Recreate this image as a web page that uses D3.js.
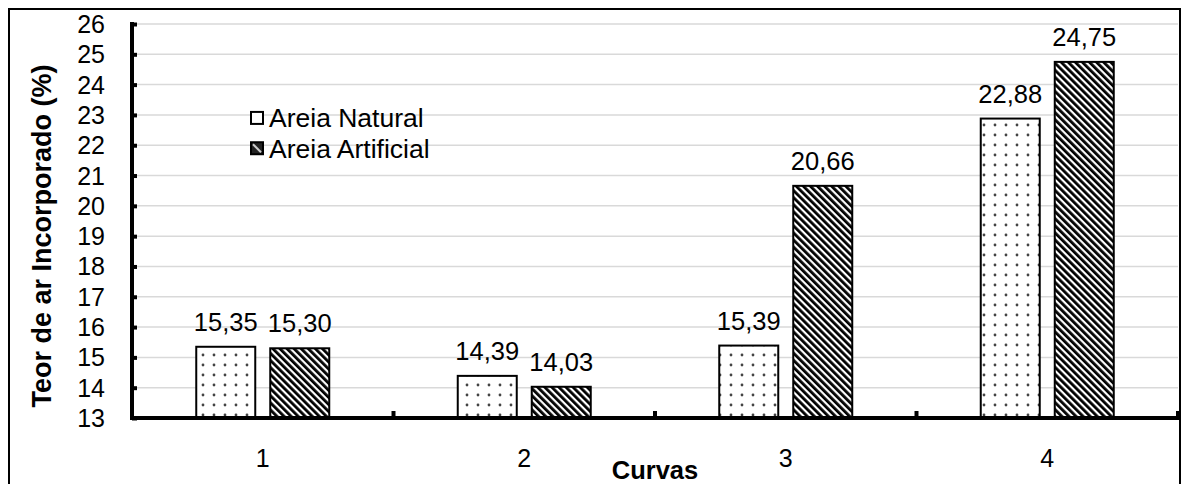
<!DOCTYPE html>
<html><head><meta charset="utf-8">
<script src="https://cdn.jsdelivr.net/npm/d3@7"></script>
<style>body{margin:0;background:#fff}svg{display:block;font-family:"Liberation Sans",Arial,sans-serif}</style>
</head><body><svg id="c" width="1183" height="484"></svg>
<script>
const categories = ["1","2","3","4"];
const seriesNames = ["Areia Natural","Areia Artificial"];
const natural = [15.35, 14.39, 15.39, 22.88];
const artificial = [15.30, 14.03, 20.66, 24.75];
const labelsNatural = ["15,35","14,39","15,39","22,88"];
const labelsArtificial = ["15,30","14,03","20,66","24,75"];
const yTicks = [13,14,15,16,17,18,19,20,21,22,23,24,25,26];

const svg = d3.select("#c");
const defs = svg.append("defs");
const dots = defs.append("pattern").attr("id","dots").attr("patternUnits","userSpaceOnUse")
  .attr("width",11).attr("height",10);
dots.append("rect").attr("width",11).attr("height",10).attr("fill","#fff");
dots.append("circle").attr("cx",5).attr("cy",5).attr("r",1.4).attr("fill","#444");
const hatch = defs.append("pattern").attr("id","hatch").attr("patternUnits","userSpaceOnUse")
  .attr("width",5).attr("height",5).attr("patternTransform","rotate(-45)");
hatch.append("rect").attr("width",5).attr("height",5).attr("fill","#fff");
hatch.append("rect").attr("x",0).attr("width",2.8).attr("height",5).attr("fill","#000");

const L = 132, R = 1178, T = 24, B = 418;
const x = d3.scaleBand().domain(categories).range([L, R]);
const y = d3.scaleLinear().domain([13, 26]).range([B, T]);
const barW = 59, gap = 15;

// outer border
svg.append("rect").attr("x",9).attr("y",9).attr("width",1171).attr("height",490)
  .attr("fill","none").attr("stroke","#000").attr("stroke-width",2);

// gridlines
svg.append("g").selectAll("line").data(yTicks.slice(1)).join("line")
  .attr("x1",L).attr("x2",R).attr("y1",d=>y(d)).attr("y2",d=>y(d))
  .attr("stroke","#d9d9d9").attr("stroke-width",1.5);

// bars
const g = svg.append("g");
categories.forEach((c,i)=>{
  const cx = x(c) + x.bandwidth()/2;
  const xs = [cx - gap/2 - barW, cx + gap/2];
  const vals = [natural[i], artificial[i]];
  const labs = [labelsNatural[i], labelsArtificial[i]];
  const fills = ["url(#dots)","url(#hatch)"];
  vals.forEach((v,j)=>{
    g.append("rect").attr("x",xs[j]).attr("y",y(v)).attr("width",barW).attr("height",y(13)-y(v))
      .attr("fill",fills[j]).attr("stroke","#000").attr("stroke-width",2);
    g.append("text").attr("x",xs[j]+barW/2).attr("y",y(v)-16).attr("text-anchor","middle")
      .attr("font-size",25.5).attr("fill","#000").text(labs[j]);
  });
});

// y axis
const yAxis = d3.axisRight(y).tickValues(yTicks).tickSize(5).tickFormat("");
const ya = svg.append("g").attr("transform",`translate(${L},0)`).call(yAxis);
ya.select(".domain").remove();
ya.selectAll(".tick line").attr("stroke","#000").attr("stroke-width",4);
svg.append("line").attr("x1",L).attr("x2",L).attr("y1",T-2).attr("y2",B+2).attr("stroke","#000").attr("stroke-width",4);
svg.append("g").selectAll("text").data(yTicks).join("text")
  .attr("x",105).attr("y",d=>y(d)).attr("dy","0.36em").attr("text-anchor","end")
  .attr("font-size",25).text(d=>d);

// x axis
svg.append("line").attr("x1",L-2).attr("x2",R+2).attr("y1",B).attr("y2",B).attr("stroke","#000").attr("stroke-width",4);
svg.append("g").selectAll("line").data(categories).join("line")
  .attr("x1",d=>x(d)+x.bandwidth()).attr("x2",d=>x(d)+x.bandwidth())
  .attr("y1",B).attr("y2",B-7).attr("stroke","#000").attr("stroke-width",4);
svg.append("g").selectAll("text").data(categories).join("text")
  .attr("x",d=>x(d)+x.bandwidth()/2).attr("y",467).attr("text-anchor","middle")
  .attr("font-size",25).text(d=>d);

// axis titles
svg.append("text").attr("x",(L+R)/2).attr("y",479).attr("text-anchor","middle")
  .attr("font-size",25.5).attr("font-weight","bold").text("Curvas");
svg.append("text").attr("transform",`translate(51,${(T+B)/2+15}) rotate(-90)`).attr("text-anchor","middle")
  .attr("font-size",27).attr("font-weight","bold").text("Teor de ar Incorporado (%)");

// legend
const leg = svg.append("g");
seriesNames.forEach((s,i)=>{
  const cy = y(23) + i*(y(22)-y(23)) + 3;
  leg.append("rect").attr("x",251).attr("y",cy-6).attr("width",12).attr("height",12)
    .attr("fill",i===0?"#fff":"#222").attr("stroke","#000").attr("stroke-width",2);
  if(i===1) leg.append("line").attr("x1",253).attr("y1",cy-4).attr("x2",261).attr("y2",cy+4).attr("stroke","#ccc").attr("stroke-width",2);
  leg.append("text").attr("x",269).attr("y",cy).attr("dy","0.36em").attr("font-size",26.5).text(s);
});
</script></body></html>
